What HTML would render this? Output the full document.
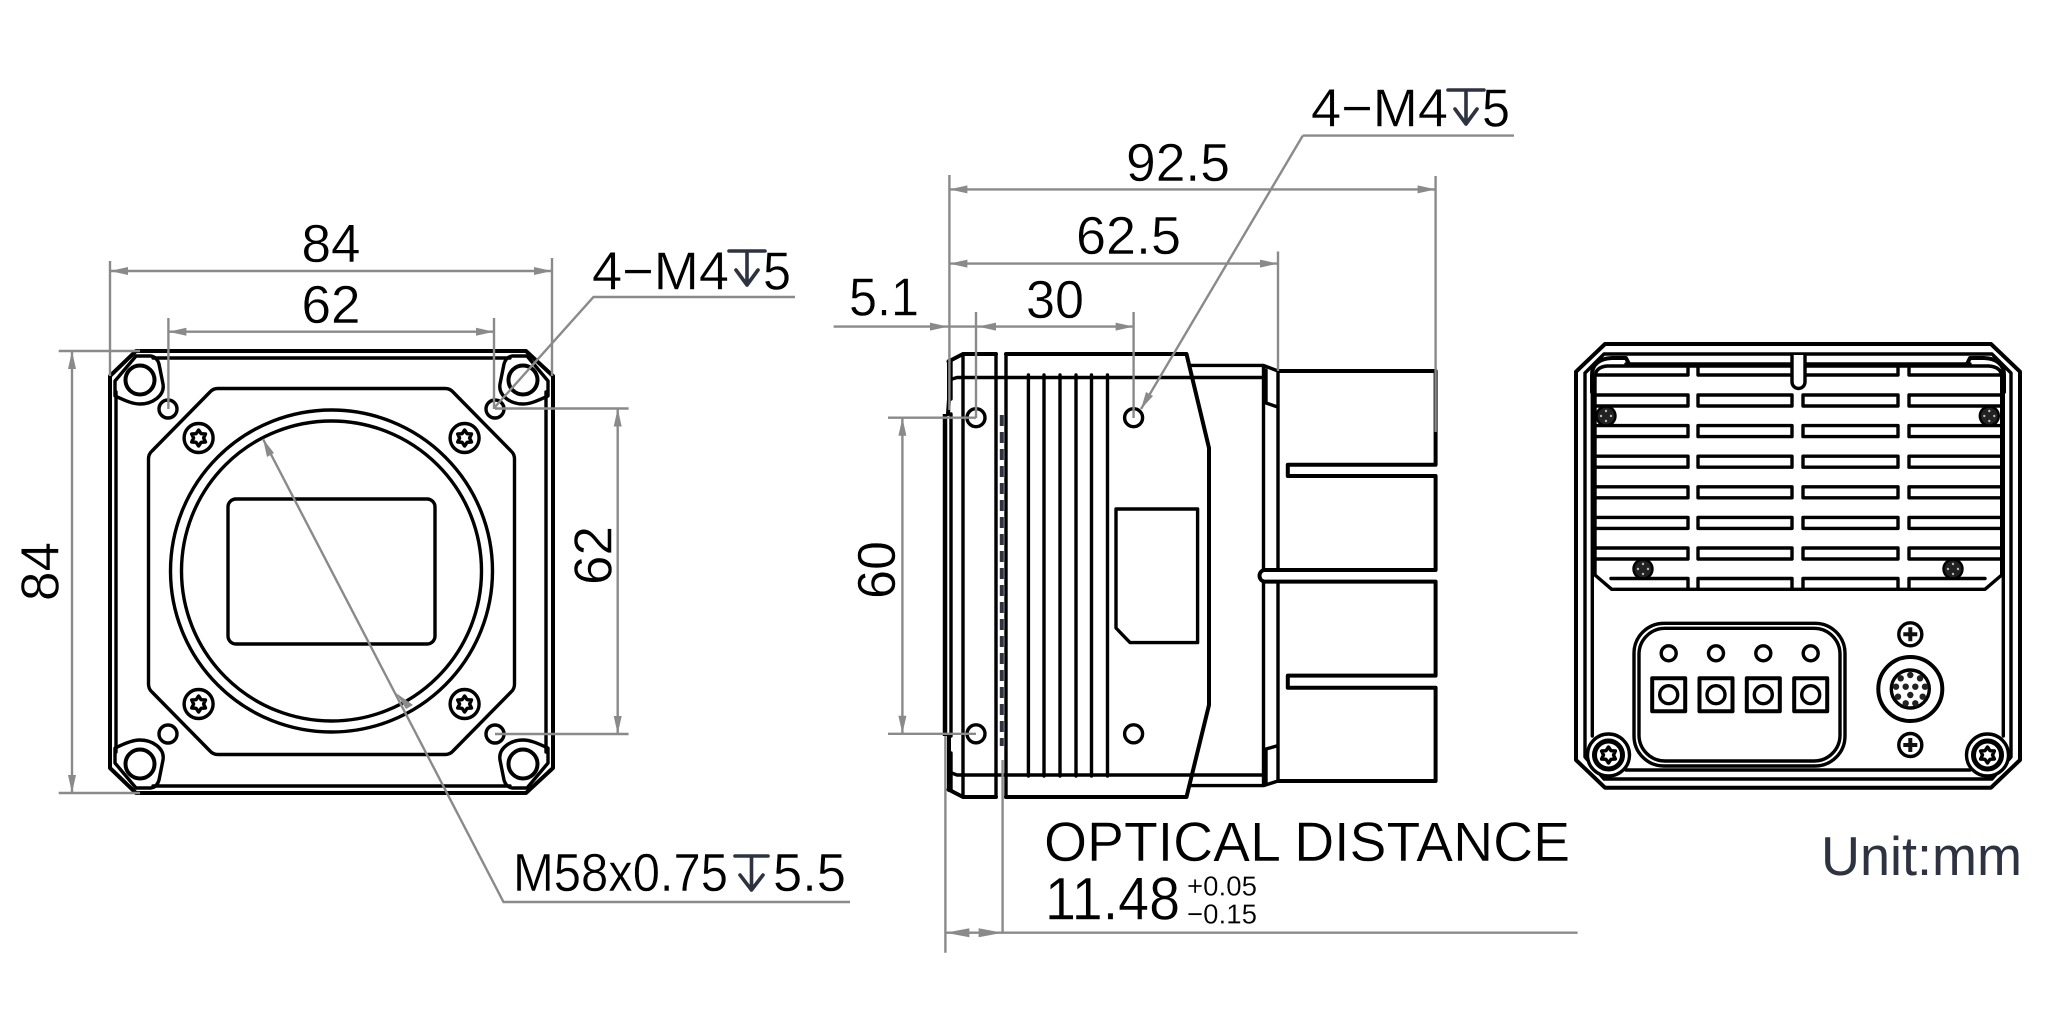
<!DOCTYPE html>
<html><head><meta charset="utf-8"><style>
html,body{margin:0;padding:0;background:#fff}
svg{display:block}
text{font-family:"Liberation Sans",sans-serif;fill:#000;stroke:#fff;stroke-width:.45}
.b{fill:none;stroke:#000;stroke-width:3.4;stroke-linejoin:round;stroke-linecap:round}
.s{stroke-width:4}
.g{fill:none;stroke:#8a8a8a;stroke-width:2.4}
.a{fill:#8a8a8a;stroke:none}
.d{fill:none;stroke:#2d3340;stroke-width:3.6;stroke-linecap:round;stroke-linejoin:round}
</style></head><body>
<svg width="2048" height="1024" viewBox="0 0 2048 1024" xmlns="http://www.w3.org/2000/svg">
<defs>
<g id="corner"><path class="b" d="M115 381L136 356H151Q157 357 159 364L163 384C165 396 152 404 140 404C132 404 124 400 115 396Z"/><circle class="b s" cx="140" cy="380" r="14.5"/></g>
<g id="star"><path class="b" d="M0-8L2.5-4.3 6.9-4 5 0 6.9 4 2.5 4.3 0 8-2.5 4.3-6.9 4-5 0-6.9-4-2.5-4.3Z"/></g>
<g id="torx"><circle class="b" r="14.5"/><use href="#star"/></g>
<g id="bs"><circle r="9.5" fill="#222" stroke="#000" stroke-width="2.4"/><g fill="#bbb"><circle cx="0" cy="-5" r="1.2"/><circle cx="0" cy="5" r="1.2"/><circle cx="-5" cy="0" r="1.2"/><circle cx="5" cy="0" r="1.2"/></g></g>
<g id="big"><circle r="21" fill="#fff" stroke="#000" stroke-width="3.4"/><circle r="14" fill="none" stroke="#000" stroke-width="5"/><use href="#star"/></g>
<g id="ph"><circle r="11.5" fill="#fff" stroke="#000" stroke-width="3.4"/><path d="M-7-2H-2V-7H2V-2H7V2H2V7H-2V2H-7Z" fill="#111"/></g>
<g id="led"><circle class="b" cx="0" cy="-41.4" r="7.5"/><rect class="b s" x="-16.5" y="-16.5" width="33" height="33"/><circle class="b" r="9"/></g>
<g id="row">
<path class="b" d="M1595 0H1688V11H1595M1698 0H1792V11H1698ZM1803 0H1898V11H1803ZM2002 0H1909V11H2002"/>
</g>
</defs>

<!-- FRONT VIEW -->
<path class="b s" d="M110 376L136 351H526L553 376V768L526 793H136L110 768Z"/>
<path class="b" d="M153 358H510M153 786H510M116 392V752M546 392V752"/>
<use href="#corner"/>
<use href="#corner" transform="translate(663,0) scale(-1,1)"/>
<use href="#corner" transform="translate(0,1144) scale(1,-1)"/>
<use href="#corner" transform="translate(663,1144) scale(-1,-1)"/>
<circle class="b" cx="168" cy="409" r="9"/><circle class="b" cx="495" cy="409" r="9"/><circle class="b" cx="168" cy="734" r="9"/><circle class="b" cx="495" cy="734" r="9"/>
<path class="b" d="M218 388.5H445Q450 388.5 453 392L511 451Q514.5 454 514.5 459V684Q514.5 689 511 692L453 751Q450 754.5 445 754.5H218Q213 754.5 210 751L152 692Q148.5 689 148.5 684V459Q148.5 454 152 451L210 392Q213 388.5 218 388.5Z"/>
<circle class="b" cx="331.5" cy="571" r="161"/><circle class="b" cx="331.5" cy="571" r="150"/>
<rect class="b" x="228" y="499" width="207" height="145" rx="8"/>
<use href="#torx" x="198.6" y="438"/><use href="#torx" x="464.6" y="438"/><use href="#torx" x="198.6" y="704"/><use href="#torx" x="464.6" y="704"/>

<!-- front dims -->
<path class="g" d="M110 261V376M552 258V376M110 271H552M168.4 318V409M494 318V409M168.4 331.7H494M58.7 351H140M58.7 793H140M72 351V793M495 408.5H628.6M495 734H628.6M617.7 408.5V734M495 407L593.5 297H795M263 439L503.5 902H850"/>
<path class="a" d="M110 271l18-4v8zM552 271l-18-4v8zM168.4 331.7l18-4v8zM494 331.7l-18-4v8zM72 351l-4 18h8zM72 793l-4-18h8zM617.7 408.5l-4 18h8zM617.7 734l-4-18h8zM263 439l4 18 7-4zM396 693l10 16 7-4z"/>
<text x="301.5" y="262" font-size="54" textLength="59" lengthAdjust="spacingAndGlyphs">84</text>
<text x="301.5" y="323" font-size="54" textLength="59" lengthAdjust="spacingAndGlyphs">62</text>
<text x="592" y="289.5" font-size="54" textLength="137" lengthAdjust="spacingAndGlyphs">4−M4</text>
<text x="763" y="289.5" font-size="54" textLength="28" lengthAdjust="spacingAndGlyphs">5</text>
<path class="d" d="M729 251H765M747 251V285M736 270L747 285 758 270"/>
<text transform="translate(58.7,601) rotate(-90)" font-size="54" textLength="59" lengthAdjust="spacingAndGlyphs">84</text>
<text transform="translate(611.6,585) rotate(-90)" font-size="54" textLength="59" lengthAdjust="spacingAndGlyphs">62</text>
<text x="513" y="891" font-size="54" textLength="215" lengthAdjust="spacingAndGlyphs">M58x0.75</text>
<text x="773" y="891" font-size="54" textLength="73" lengthAdjust="spacingAndGlyphs">5.5</text>
<path class="d" d="M735 856H768M751.5 856V890M740 875L751.5 890 763 875"/>

<!-- SIDE VIEW -->
<path class="b s" d="M948.5 361.5L963 354H996M1006 354H1186.5L1209 448V705L1186.5 797H1006M996 797H963L948.5 789.5M949 361V399L948 414M949 736V790"/>
<path class="b" d="M951 361V399M951 753V790"/>
<path d="M945 414V736" stroke="#000" stroke-width="4.5" fill="none"/>
<path class="b" d="M951 414V736M963 354V797M996 354V797M1006 354V797M949 380L957 377.5H1263.5M949 772L957 775H1263.5"/>
<path d="M1001.8 415V746" stroke="#2d3340" stroke-width="4" stroke-dasharray="11 6" fill="none"/>
<path class="b" d="M1028.4 375V776M1044 375V776M1060 375V776M1076 375V776M1091.5 375V776M1107.5 375V776"/>
<path class="b" d="M1191 365.4H1263.5L1278 371M1191 785.6H1263.5L1278 781M1263.5 365.4V570M1263.5 582V785.6M1278 371V570M1278 582V781"/>
<path class="b" d="M1266 370V403L1276.6 406.6M1266 782V749L1276.6 746"/>
<path class="b s" d="M1278 371H1435.6V464.8H1287.8V476H1435.6V570H1264A6 6 0 0 0 1264 581.6H1435.6V675.6H1287.8V687.7H1435.6V781H1278"/>
<circle class="b" cx="976" cy="417.7" r="9"/><circle class="b" cx="1133.6" cy="417.7" r="9"/><circle class="b" cx="976" cy="733.8" r="9"/><circle class="b" cx="1133.6" cy="733.8" r="9"/>
<path class="b" d="M1116 509H1197.6V642.6H1130L1116 628Z"/>

<!-- side dims -->
<path class="g" d="M949.4 175V410M1435.6 176V432M949.4 189.4H1435.6M1278 251.5V371M949.4 263.6H1278M976 312V418M1133.6 312V418M833.6 326.6H1133.6M888 417.7H976M888 733.8H976M902.4 417.7V733.8M1302.8 135.6H1514M1302.8 135.6L1141 409M945.4 736V952.7M1002.6 760V932.7M945.4 932.7H1577.6"/>
<path class="a" d="M949.4 189.4l18-4v8zM1435.6 189.4l-18-4v8zM949.4 263.6l18-4v8zM1278 263.6l-18-4v8zM948 326.6l-18-4v8zM978 326.6l18-4v8zM1133.6 326.6l-18-4v8zM902.4 417.7l-4 18h8zM902.4 733.8l-4-18h8zM1141 409l5-17 7 4zM945.4 932.7l24-4.5v9zM1002.6 932.7l-24-4.5v9z"/>
<text x="1126" y="181" font-size="54" textLength="104" lengthAdjust="spacingAndGlyphs">92.5</text>
<text x="1076" y="254" font-size="54" textLength="105" lengthAdjust="spacingAndGlyphs">62.5</text>
<text x="1026" y="318" font-size="54" textLength="58" lengthAdjust="spacingAndGlyphs">30</text>
<text x="849" y="315.5" font-size="54" textLength="70" lengthAdjust="spacingAndGlyphs">5.1</text>
<text transform="translate(895,599) rotate(-90)" font-size="54" textLength="58" lengthAdjust="spacingAndGlyphs">60</text>
<text x="1311" y="126.4" font-size="54" textLength="137" lengthAdjust="spacingAndGlyphs">4−M4</text>
<text x="1482" y="126.4" font-size="54" textLength="28" lengthAdjust="spacingAndGlyphs">5</text>
<path class="d" d="M1448 90H1484M1466 90V124M1455 109L1466 124 1477 109"/>
<text x="1044" y="861" font-size="56" textLength="526" lengthAdjust="spacingAndGlyphs">OPTICAL DISTANCE</text>
<text x="1045" y="919.3" font-size="60" textLength="135" lengthAdjust="spacingAndGlyphs">11.48</text>
<text x="1187" y="895.7" font-size="28" textLength="70" lengthAdjust="spacingAndGlyphs" style="stroke-width:.2">+0.05</text>
<text x="1187" y="923.3" font-size="28" textLength="70" lengthAdjust="spacingAndGlyphs" style="stroke-width:.2">−0.15</text>

<!-- REAR VIEW -->
<path class="b s" d="M1576 371.7L1605 344H1991L2020 371.7V760L1991 787.7H1605L1576 760Z"/>
<path class="b" d="M1585 373L1604 354H1992L2011 373V757L1992 779H1604L1585 757Z"/>
<path class="b" d="M1592.3 393V736M2003.3 393V736M1626 364H1970M1626 770H1970"/>
<path class="b s" d="M1592 392V375Q1592 359 1612 358H1626L1629 364M2004 392V375Q2004 359 1984 358H1970L1967 364"/>
<path class="b" d="M1595 391V376Q1596 367 1607 366H1989Q2001 367 2001.7 376V575L1985 589.3H1611.7L1595 575V392"/>
<use href="#row" y="395"/><use href="#row" y="425.6"/><use href="#row" y="456.2"/><use href="#row" y="486.8"/><use href="#row" y="517.4"/><use href="#row" y="548"/>
<path class="b" d="M1595 375H1688V367M1698 367V375H1792M1805 375H1898V367M1909 367V375H2002M1688 589V578.5H1611M1698 589V578.5H1792V589M1803 589V578.5H1898V589M1909 589V578.5H1985"/>
<path class="b" d="M1792 355V382A6.5 6.5 0 0 0 1805 382V355" style="fill:#fff"/>
<use href="#bs" x="1606" y="416"/><use href="#bs" x="1989.3" y="416"/><use href="#bs" x="1643" y="569"/><use href="#bs" x="1953" y="569"/>
<rect class="b" x="1634" y="623.3" width="211" height="142.7" rx="30"/>
<rect class="b" x="1639" y="628.3" width="201" height="132.7" rx="26"/>
<use href="#led" x="1668.7" y="694.7"/><use href="#led" x="1716" y="694.7"/><use href="#led" x="1763.3" y="694.7"/><use href="#led" x="1810.7" y="694.7"/>
<circle class="b s" cx="1910.3" cy="689" r="32"/><circle class="b" cx="1910.3" cy="689" r="19"/>
<g fill="#222"><circle cx="1910.3" cy="675" r="3.2"/><circle cx="1900.7" cy="678.3" r="3.2"/><circle cx="1920" cy="678.3" r="3.2"/><circle cx="1896" cy="686.7" r="3.2"/><circle cx="1905.7" cy="686.7" r="3.2"/><circle cx="1915.3" cy="686.7" r="3.2"/><circle cx="1925" cy="686.7" r="3.2"/><circle cx="1898" cy="696.7" r="3.2"/><circle cx="1910.3" cy="695" r="3.2"/><circle cx="1922.7" cy="696.7" r="3.2"/><circle cx="1905.7" cy="703.3" r="3.2"/><circle cx="1915.3" cy="703.3" r="3.2"/></g>
<use href="#ph" x="1910.3" y="634.3"/><use href="#ph" x="1910.3" y="745"/>
<use href="#big" x="1608.5" y="755"/><use href="#big" x="1987.5" y="755"/>
<text x="1821" y="875" font-size="55" textLength="201" lengthAdjust="spacingAndGlyphs" style="fill:#2d3340;stroke:none">Unit:mm</text>
</svg>
</body></html>
